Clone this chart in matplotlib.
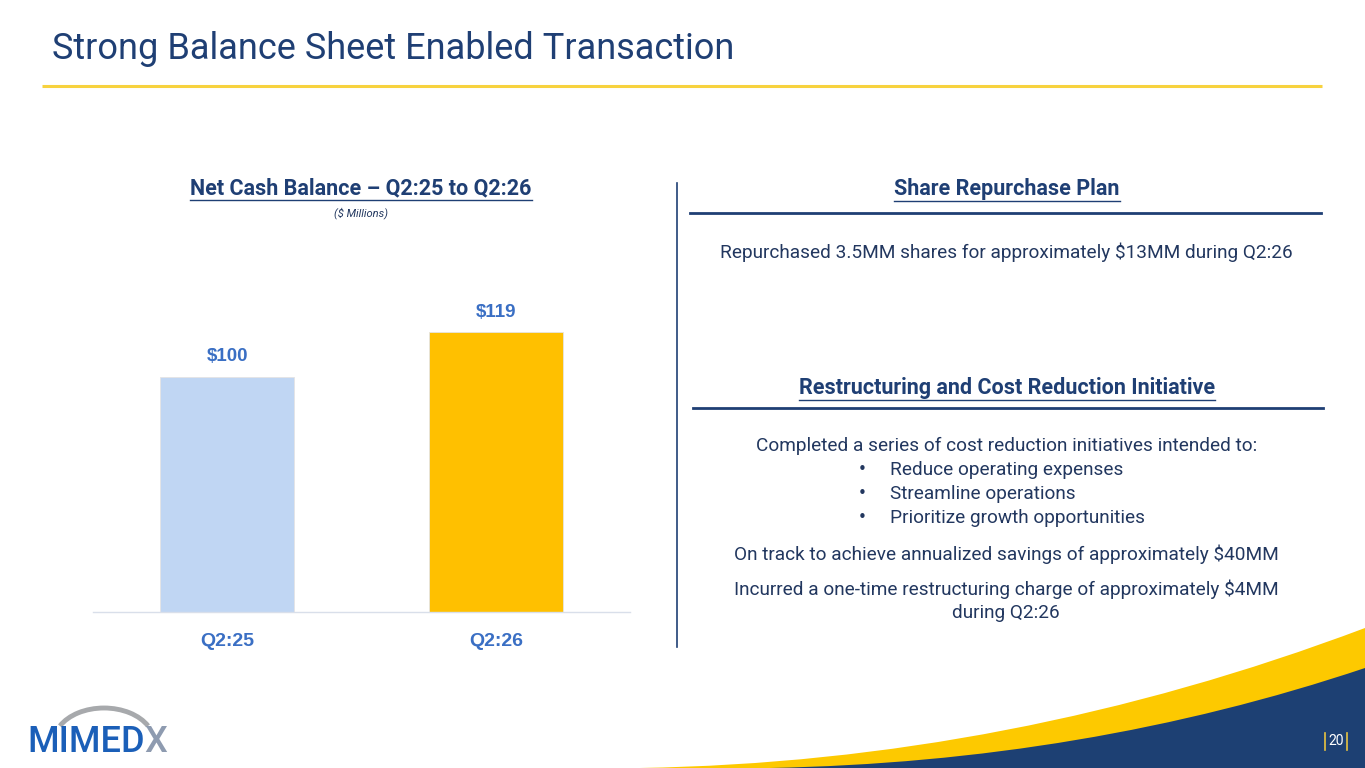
import numpy as np
import matplotlib.pyplot as plt
from matplotlib.path import Path
from matplotlib.patches import PathPatch, Arc

# chart data
quarters = ["Q2:25", "Q2:26"]
net_cash = [100, 119]
bar_colors = ["#C0D6F3", "#FFC000"]

# slide text
title = "Strong Balance Sheet Enabled Transaction"
chart_title = "Net Cash Balance \u2013 Q2:25 to Q2:26"
chart_sub = "($ Millions)"
share_head = "Share Repurchase Plan"
share_text = "Repurchased 3.5MM shares for approximately $13MM during Q2:26"
restr_head = "Restructuring and Cost Reduction Initiative"
restr_intro = "Completed a series of cost reduction initiatives intended to:"
restr_bullets = ["Reduce operating expenses", "Streamline operations",
                 "Prioritize growth opportunities"]
restr_lines = ["On track to achieve annualized savings of approximately $40MM",
               "Incurred a one-time restructuring charge of approximately $4MM\nduring Q2:26"]

NAVY = "#1F3F74"
TEXT = "#22375F"
BLUE = "#3A6FC4"
body = ["Roboto", "DejaVu Sans"]
arial = ["Liberation Sans", "DejaVu Sans"]

W, H = 1365, 768
fig = plt.figure(figsize=(W / 100, H / 100), dpi=100)
fig.patch.set_facecolor("white")

bg = fig.add_axes([0, 0, 1, 1])
bg.set_xlim(0, W)
bg.set_ylim(H, 0)
bg.axis("off")

# title + gold rule
bg.text(52, 49, title, fontsize=26, color=NAVY, family=body, va="center", ha="left")
bg.plot([42, 1322], [86, 86], color="#F7D23E", lw=2.2, solid_capstyle="butt")

renderer = fig.canvas.get_renderer()


def underlined(x, y, s, size):
    t = bg.text(x, y, s, fontsize=size, color=NAVY, family=body, weight="bold",
                ha="center", va="center")
    bb = t.get_window_extent(renderer=renderer)
    yl = y + bb.height / 2 + 1
    bg.plot([bb.x0, bb.x1], [yl, yl], color=NAVY, lw=1.0)
    return t


# left header
underlined(361, 188, chart_title, 15.5)
bg.text(361, 213, chart_sub, fontsize=8, style="italic", color=TEXT, family=body,
        ha="center", va="center")

# vertical divider
bg.plot([677, 677], [183, 647], color=NAVY, lw=1.2)

# right panel
fs = 13.7
underlined(1007, 189, share_head, 15.5)
bg.plot([690, 1321], [213, 213], color=NAVY, lw=2)
bg.text(1006, 252, share_text, fontsize=fs, color=TEXT, family=body, ha="center", va="center")

underlined(1007, 388, restr_head, 15.5)
bg.plot([693, 1323], [408, 408], color=NAVY, lw=2)
bg.text(1007, 446, restr_intro, fontsize=fs, color=TEXT, family=body, ha="center", va="center")
for i, b in enumerate(restr_bullets):
    yy = 470 + i * 24
    bg.text(862, yy, "\u2022", fontsize=11, color=TEXT, family=["DejaVu Sans"], ha="center", va="center")
    bg.text(890, yy, b, fontsize=fs, color=TEXT, family=body, ha="left", va="center")
bg.text(1006, 554, restr_lines[0], fontsize=fs, color=TEXT, family=body, ha="center", va="center")
bg.text(1006, 601, restr_lines[1], fontsize=fs, color=TEXT, family=body, ha="center",
        va="center", linespacing=1.35)

# bottom-right swoosh
yellow = Path([(640, 768), (1010, 762), (1365, 628), (1365, 768), (640, 768)],
              [Path.MOVETO, Path.CURVE3, Path.CURVE3, Path.LINETO, Path.CLOSEPOLY])
blue = Path([(770, 768), (1085, 762), (1365, 668), (1365, 768), (770, 768)],
            [Path.MOVETO, Path.CURVE3, Path.CURVE3, Path.LINETO, Path.CLOSEPOLY])
bg.add_patch(PathPatch(yellow, facecolor="#FDC900", edgecolor="none"))
bg.add_patch(PathPatch(blue, facecolor="#1D4073", edgecolor="none"))

# page number
bg.text(1336, 741, "20", fontsize=10, color="white", family=body, ha="center", va="center")
for xx in (1325, 1347):
    bg.plot([xx, xx], [733, 750], color="#E8C440", lw=1.2)

# logo
bg.add_patch(Arc((104, 742), 100, 68, theta1=200, theta2=340, color="#A7A9AC", lw=3.5))
logo = bg.text(27, 742, "MIMED", fontsize=26, weight="medium", color="#1B5FB8", family=body,
               ha="left", va="center")
lb = logo.get_window_extent(renderer=renderer)
bg.text(lb.x1, 742, "X", fontsize=26, weight="medium", color="#8E9BB0", family=body,
        ha="left", va="center")

# bar chart
ax = fig.add_axes([93 / W, (H - 612) / H, 537 / W, 322 / H])
ax.patch.set_alpha(0)
x = np.arange(len(quarters))
bars = ax.bar(x, net_cash, width=0.5, color=bar_colors, edgecolor="#E4E4E4", lw=0.6)
ax.set_xlim(-0.5, 1.5)
ax.set_ylim(0, 137)
for xi, v in zip(x, net_cash):
    ax.text(xi, v + 5, f"${v}", ha="center", va="bottom", fontsize=13.5, weight="bold",
            color=BLUE, family=arial)
ax.set_xticks(x)
ax.set_xticklabels(quarters, fontsize=14, weight="bold", color=BLUE, family=arial)
ax.tick_params(axis="x", length=0, pad=15)
ax.set_yticks([])
for s in ("left", "right", "top"):
    ax.spines[s].set_visible(False)
ax.spines["bottom"].set_color("#D9DFEA")
ax.spines["bottom"].set_linewidth(1)

fig.savefig("out.png", dpi=100, facecolor="white")
